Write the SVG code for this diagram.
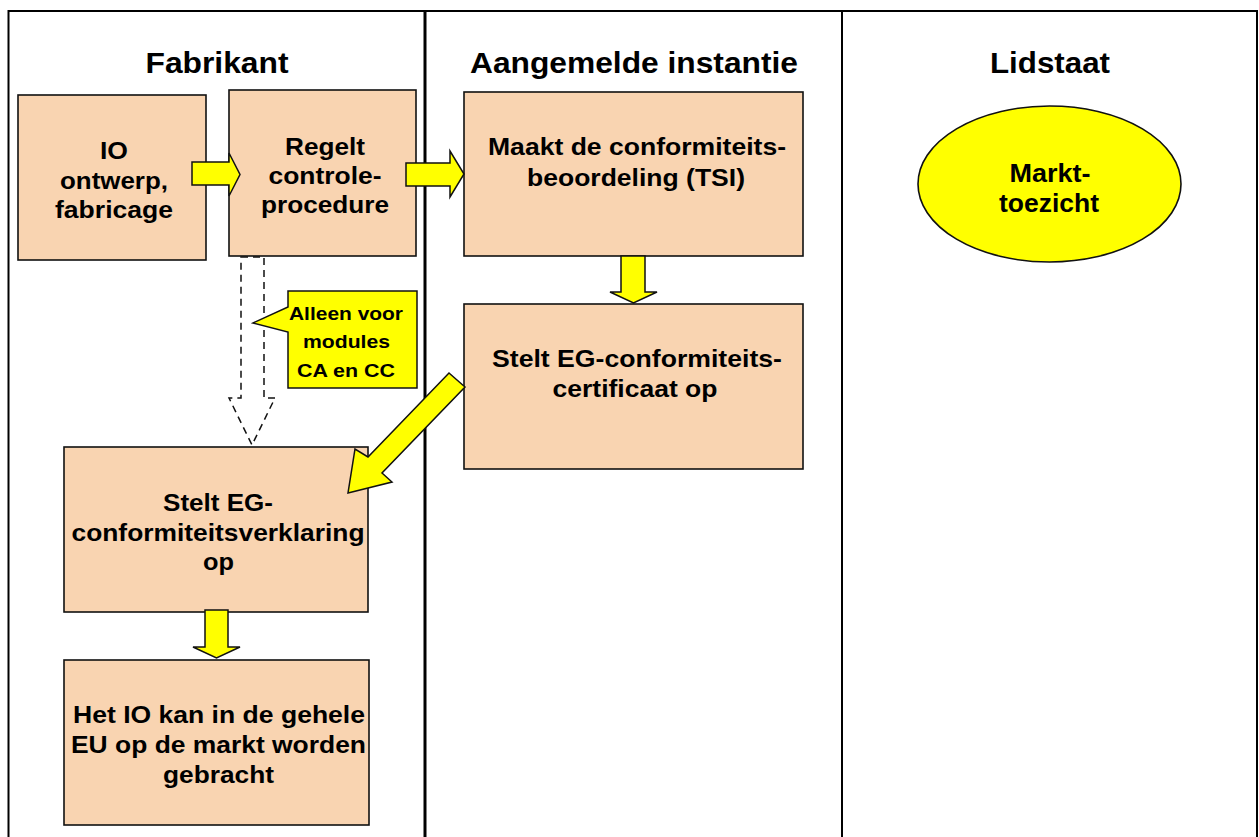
<svg xmlns="http://www.w3.org/2000/svg" width="1259" height="837" viewBox="0 0 1259 837">
<style>
  text { font-family: "Liberation Sans", Arial, sans-serif; font-weight: bold; fill: #000; text-anchor: middle; }
  .title { font-size: 29px; }
  .bt { font-size: 24px; }
  .ct { font-size: 18.5px; }
  .et { font-size: 25px; }
  .box { fill: #F9D4B1; stroke: #111; stroke-width: 1.6; }
  .yel { fill: #FFFF00; stroke: #111; stroke-width: 1.5; stroke-linejoin: miter; }
  .dash { fill: none; stroke: #111; stroke-width: 1.5; stroke-dasharray: 7 5; }
</style>
<rect x="0" y="0" width="1259" height="837" fill="#fff"/>
<g id="frame" fill="none" stroke="#000">
  <path d="M8.5,845 V11 H1257 V845" stroke-width="2"/>
  <line x1="425" y1="11" x2="425" y2="845" stroke-width="3"/>
  <line x1="842" y1="11" x2="842" y2="845" stroke-width="2"/>
</g>
<g id="titles">
  <text class="title" x="217" y="73" textLength="143" lengthAdjust="spacingAndGlyphs">Fabrikant</text>
  <text class="title" x="634" y="73" textLength="328" lengthAdjust="spacingAndGlyphs">Aangemelde instantie</text>
  <text class="title" x="1050" y="73" textLength="120" lengthAdjust="spacingAndGlyphs">Lidstaat</text>
</g>
<g id="node-io">
  <rect class="box" x="18" y="95" width="188" height="165"/>
  <text class="bt" x="114" y="159" textLength="28" lengthAdjust="spacingAndGlyphs">IO</text>
  <text class="bt" x="114" y="188.5" textLength="108" lengthAdjust="spacingAndGlyphs">ontwerp,</text>
  <text class="bt" x="114" y="217.5" textLength="118" lengthAdjust="spacingAndGlyphs">fabricage</text>
</g>
<g id="node-regelt">
  <rect class="box" x="229" y="90" width="187" height="166"/>
  <text class="bt" x="325" y="155" textLength="80" lengthAdjust="spacingAndGlyphs">Regelt</text>
  <text class="bt" x="325" y="184" textLength="113" lengthAdjust="spacingAndGlyphs">controle-</text>
  <text class="bt" x="325" y="213" textLength="128" lengthAdjust="spacingAndGlyphs">procedure</text>
</g>
<g id="node-maakt">
  <rect class="box" x="464" y="92" width="339" height="164"/>
  <text class="bt" x="637" y="155" textLength="298" lengthAdjust="spacingAndGlyphs">Maakt de conformiteits-</text>
  <text class="bt" x="636" y="185.5" textLength="218" lengthAdjust="spacingAndGlyphs">beoordeling (TSI)</text>
</g>
<g id="node-certificaat">
  <rect class="box" x="464" y="304" width="339" height="165"/>
  <text class="bt" x="637" y="367" textLength="290" lengthAdjust="spacingAndGlyphs">Stelt EG-conformiteits-</text>
  <text class="bt" x="635" y="396.5" textLength="165" lengthAdjust="spacingAndGlyphs">certificaat op</text>
</g>
<g id="node-verklaring">
  <rect class="box" x="64" y="447" width="304" height="165"/>
  <text class="bt" x="218" y="511" textLength="110" lengthAdjust="spacingAndGlyphs">Stelt EG-</text>
  <text class="bt" x="218" y="540.5" textLength="293" lengthAdjust="spacingAndGlyphs">conformiteitsverklaring</text>
  <text class="bt" x="218.5" y="570" textLength="31" lengthAdjust="spacingAndGlyphs">op</text>
</g>
<g id="node-markt">
  <rect class="box" x="64" y="660" width="305" height="165"/>
  <text class="bt" x="219" y="723.3" textLength="292" lengthAdjust="spacingAndGlyphs">Het IO kan in de gehele</text>
  <text class="bt" x="218.5" y="753.3" textLength="295" lengthAdjust="spacingAndGlyphs">EU op de markt worden</text>
  <text class="bt" x="218.5" y="783.3" textLength="111" lengthAdjust="spacingAndGlyphs">gebracht</text>
</g>
<g id="node-toezicht">
  <ellipse cx="1049.5" cy="184" rx="131.5" ry="78" fill="#FFFF00" stroke="#111" stroke-width="1.6"/>
  <text class="et" x="1050" y="181.7" textLength="81" lengthAdjust="spacingAndGlyphs">Markt-</text>
  <text class="et" x="1049" y="211.7" textLength="100" lengthAdjust="spacingAndGlyphs">toezicht</text>
</g>
<g id="connectors">
  <polygon class="yel" points="192,162 229,162 229,153 240,174.5 229,196 229,185 192,185"/>
  <polygon class="yel" points="406,163 450,163 450,151 464,174 450,197 450,186 406,186"/>
  <polygon class="yel" points="621,256 645,256 645,292 657,292 633.5,303 610,292 621,292"/>
  <polygon class="yel" points="205,610 228,610 228,647 240,647 216.5,658 193,647 205,647"/>
  <polygon class="yel" points="449,373 465,387 382,473 392,482 348,493 355,449 368,457"/>
  <polygon class="dash" points="241,257 264,257 264,398 275,398 252,445 229,398 241,398"/>
</g>
<g id="node-callout">
  <path d="M288,291 H417 V388 H288 V332 L253,323 L288,307 Z" fill="#FFFF00" stroke="#111" stroke-width="1.5"/>
  <text class="ct" x="346" y="320" textLength="114" lengthAdjust="spacingAndGlyphs">Alleen voor</text>
  <text class="ct" x="346.5" y="348.3" textLength="87" lengthAdjust="spacingAndGlyphs">modules</text>
  <text class="ct" x="346" y="377.3" textLength="98" lengthAdjust="spacingAndGlyphs">CA en CC</text>
</g>
</svg>
